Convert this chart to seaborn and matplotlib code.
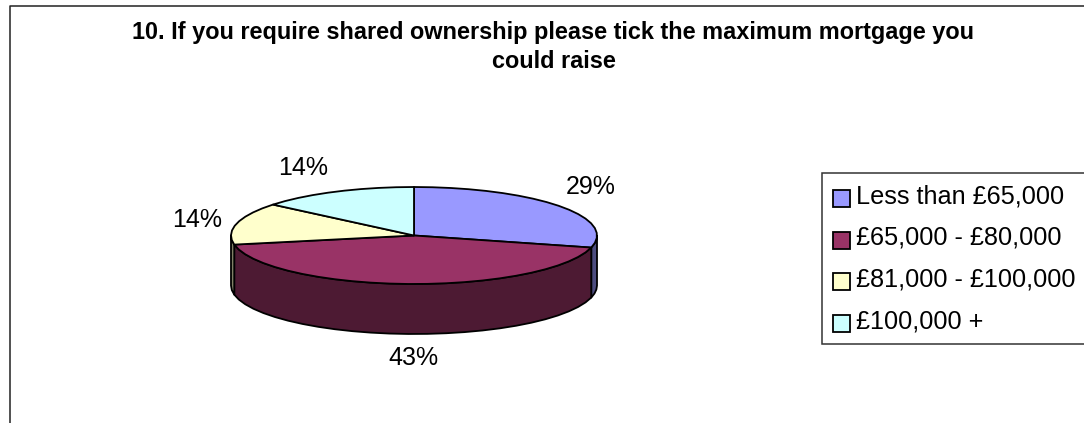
import numpy as np
import matplotlib
matplotlib.use("Agg")
import matplotlib.pyplot as plt
from matplotlib.patches import Polygon, Patch
import seaborn as sns

# Survey responses, in percent of those answering
categories = ["Less than £65,000", "£65,000 - £80,000", "£81,000 - £100,000", "£100,000 +"]
percent = [29, 43, 14, 14]
slice_colours = ["#9999FF", "#993366", "#FFFFCC", "#CCFFFF"]
title_lines = ["10. If you require shared ownership please tick the maximum mortgage you", "could raise"]

# Pie geometry in pixels
CX, CY, RX, RY, DEPTH = 414, 235.5, 183, 48.5, 50
LABEL_RX, LABEL_RY = 220, 75
FACET_DEG = 6
label_nudge = [(3, -3), (6, 48), (-4, 3), (-17, 0)]

sns.set_theme(style="white", font="Liberation Sans")
palette = sns.color_palette(slice_colours)

fig = plt.figure(figsize=(10.84, 4.23), dpi=100)
ax = fig.add_axes([0, 0, 1, 1])
ax.set_xlim(0, 1084)
ax.set_ylim(423, 0)
ax.axis("off")

# Chart frame, cut off by the right and bottom of the canvas
ax.plot([9.5, 9.5, 1084], [423, 6.5, 6.5], color="#222222", lw=1.1, zorder=1)


def rim(a, b):
    """Faceted outline of the ellipse from a to b, degrees clockwise from 12 o'clock."""
    n = int(np.ceil((b - a) / FACET_DEG)) + 1
    t = np.radians(np.linspace(a, b, n))
    return CX + RX * np.sin(t), CY - RY * np.cos(t)


edges = np.concatenate([[0], np.cumsum(percent)]) / sum(percent) * 360
edge_style = dict(edgecolor="black", linewidth=1.3, joinstyle="round")

# Walls: only the part of each slice on the near half of the ellipse shows
for a, b, colour in zip(edges[:-1], edges[1:], palette):
    lo, hi = max(a, 90), min(b, 270)
    if lo >= hi:
        continue
    x, y = rim(lo, hi)
    pts = np.column_stack([np.r_[x, x[::-1]], np.r_[y, y[::-1] + DEPTH]])
    ax.add_patch(Polygon(pts, closed=True, facecolor=tuple(c * 0.5 for c in colour),
                         zorder=2, **edge_style))

# Top faces
for a, b, colour in zip(edges[:-1], edges[1:], palette):
    x, y = rim(a, b)
    pts = np.column_stack([np.r_[CX, x], np.r_[CY, y]])
    ax.add_patch(Polygon(pts, closed=True, facecolor=colour, zorder=3, **edge_style))

# Percentage labels around the pie
for a, b, value, (dx, dy) in zip(edges[:-1], edges[1:], percent, label_nudge):
    mid = np.radians((a + b) / 2)
    ax.text(CX + LABEL_RX * np.sin(mid) + dx, CY - LABEL_RY * np.cos(mid) + dy, f"{value}%",
            ha="center", va="center", fontsize=18, color="black", zorder=4)

# Title
ax.text(553.5, 32, title_lines[0], ha="center", va="center", fontsize=16.9, fontweight="bold", color="black")
ax.text(553.5, 62, title_lines[1], ha="center", va="center", fontsize=16.9, fontweight="bold", color="black")

# Legend
handles = [Patch(facecolor=c, edgecolor="black", linewidth=1.3) for c in palette]
legend = ax.legend(handles, categories, loc="upper left", bbox_to_anchor=(822 / 1084, 1 - 173 / 423),
                   fontsize=18.2, frameon=True, fancybox=False, edgecolor="#333333", framealpha=1,
                   handlelength=0.67, handleheight=0.67, handletextpad=0.22, labelspacing=0.70,
                   borderpad=0.44, borderaxespad=0, labelcolor="black")
legend.get_frame().set_linewidth(1.1)

# Swatches sit a little below the middle of their text rows
for swatch in legend.get_patches():
    swatch.set_y(swatch.get_y() - 3)

fig.savefig("out.png", dpi=100, facecolor="white")
